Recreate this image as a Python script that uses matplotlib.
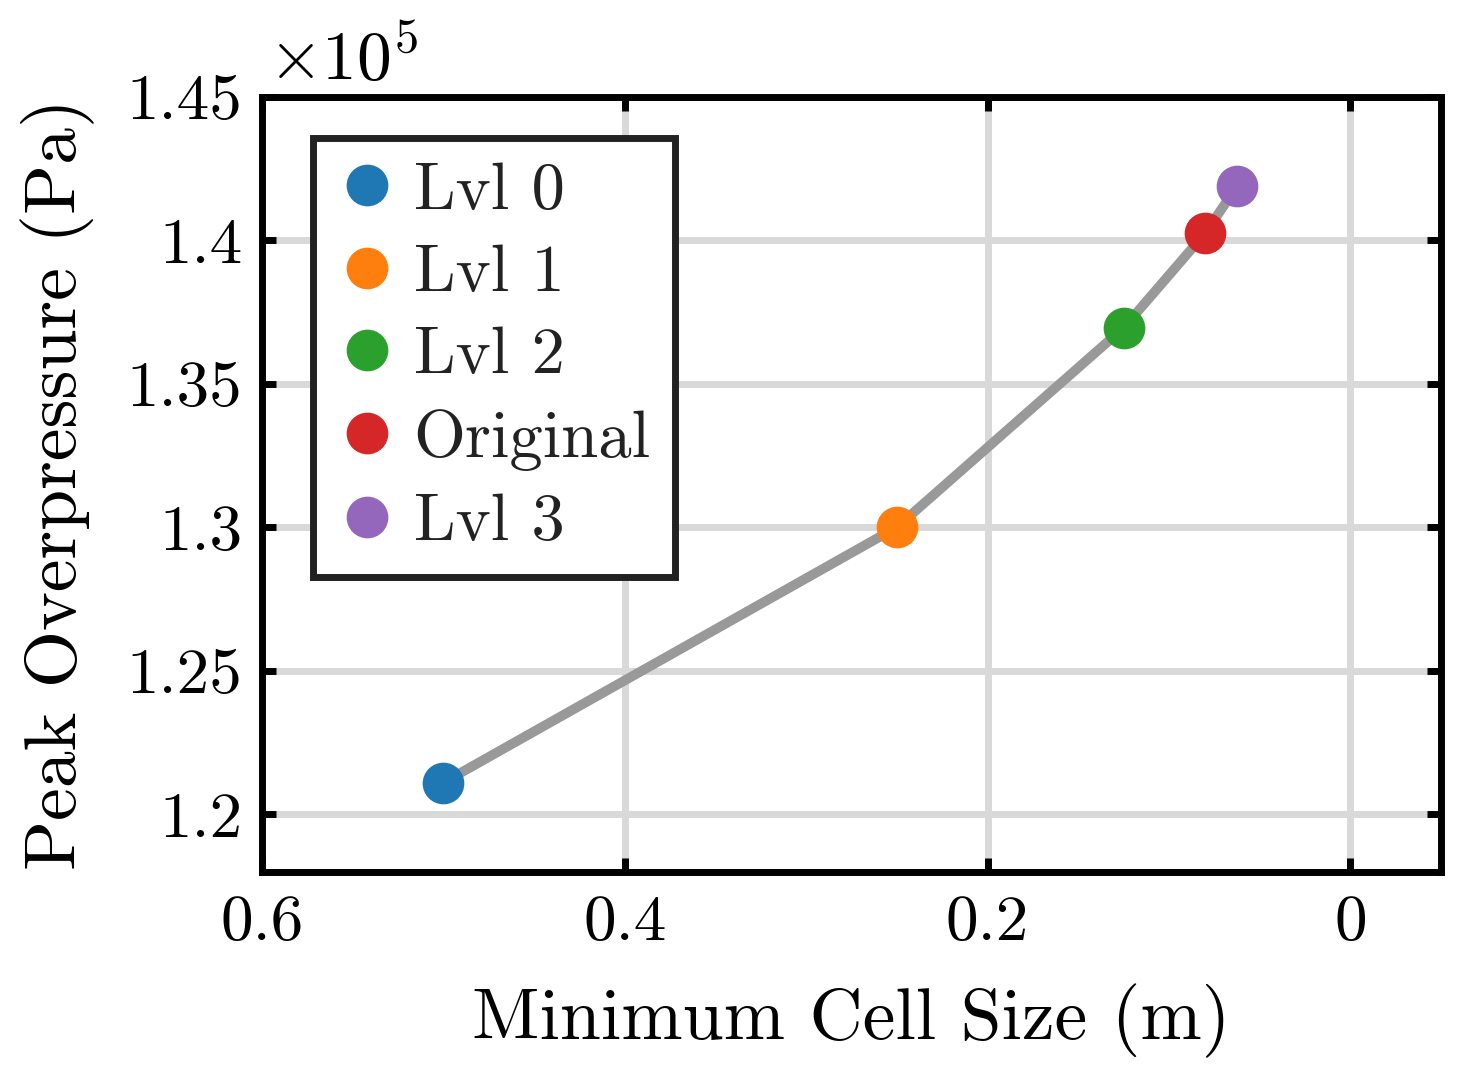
import matplotlib
matplotlib.use("Agg")
import matplotlib.pyplot as plt
from matplotlib.ticker import FuncFormatter

# mesh refinement study: min cell size vs peak overpressure
labels = ["Lvl 0", "Lvl 1", "Lvl 2", "Original", "Lvl 3"]
cell_size = [0.5, 0.25, 0.125, 0.08, 0.0625]
peak_pressure = [1.211e5, 1.300e5, 1.3695e5, 1.4025e5, 1.4188e5]
colors = ["#1f77b4", "#ff7f0e", "#2ca02c", "#d62728", "#9467bd"]
x_ticks = [0.6, 0.4, 0.2, 0.0]
y_ticks = [1.2e5, 1.25e5, 1.3e5, 1.35e5, 1.4e5, 1.45e5]

plt.rcParams.update({
    "font.family": "serif",
    "font.serif": ["cmr10"],
    "mathtext.fontset": "cm",
    "axes.formatter.use_mathtext": True,
    "axes.unicode_minus": False,
})

fig = plt.figure(figsize=(14.63, 10.76), dpi=100)
ax = fig.add_axes([0.179, 0.19, 0.806, 0.72])

ax.plot(cell_size, peak_pressure, color="#999999", linewidth=7, zorder=2)
for x, y, c, lab in zip(cell_size, peak_pressure, colors, labels):
    ax.plot(x, y, "o", color=c, markersize=29, label=lab, zorder=3)

ax.set_xlim(0.6, -0.05)
ax.set_ylim(1.18e5, 1.45e5)
ax.set_xticks(x_ticks)
ax.xaxis.set_major_formatter(FuncFormatter(lambda v, p: f"{v:g}"))
ax.set_yticks(y_ticks)
ax.yaxis.set_major_formatter(FuncFormatter(lambda v, p: f"{v / 1e5:g}"))
ax.text(0.005, 1.005, r"$\times10^{5}$", transform=ax.transAxes,
        fontsize=50, ha="left", va="bottom")

ax.grid(True, color="#d9d9d9", linewidth=5, zorder=0)
ax.set_axisbelow(True)
for s in ax.spines.values():
    s.set_linewidth(5)
ax.tick_params(direction="in", length=10, width=5, top=True, right=True,
               labelsize=47, pad=14)
ax.tick_params(axis="x", pad=17)

ax.set_xlabel("Minimum Cell Size (m)", fontsize=53, labelpad=22)
ax.set_ylabel("Peak Overpressure (Pa)", fontsize=53, labelpad=23)

leg = ax.legend(loc="upper left", bbox_to_anchor=(0.0433, 0.947), fontsize=48,
                frameon=True, fancybox=False, framealpha=1, edgecolor="#222222",
                handletextpad=0.25, borderpad=0.36, labelspacing=0.34,
                handlelength=0.9, borderaxespad=0)
leg.get_frame().set_linewidth(5)
for t in leg.get_texts():
    t.set_color("#222222")

fig.savefig("out.png", dpi=100)
